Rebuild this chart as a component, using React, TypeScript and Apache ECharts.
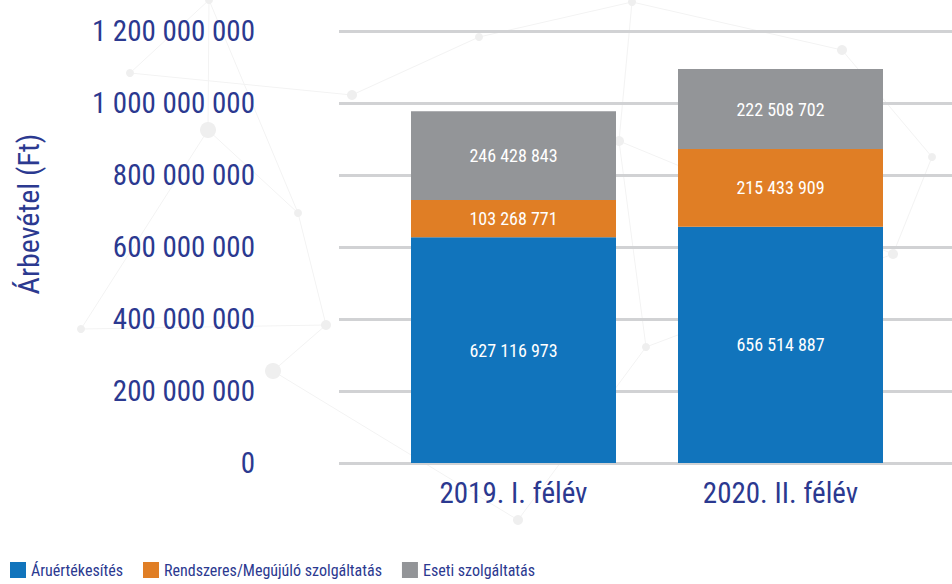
import React, { useEffect, useRef } from "react";
import * as echarts from "echarts";

const categories = ["2019. I. félév", "2020. II. félév"];
const seriesNames = ["Áruértékesítés", "Rendszeres/Megújúló szolgáltatás", "Eseti szolgáltatás"];
const aruertekesites = [627116973, 656514887];
const rendszeres = [103268771, 215433909];
const eseti = [246428843, 222508702];
const yTicks = [0, 200000000, 400000000, 600000000, 800000000, 1000000000, 1200000000];

const FONT = "'Roboto Condensed', 'DejaVu Sans Condensed', sans-serif";
const TEXT = "#2b3990";
const COLORS = ["#1174bc", "#e07e25", "#939598"];

const fmt = (n: number) => String(n).replace(/\B(?=(\d{3})+(?!\d))/g, " ");

// decorative background network
const nodes: [number, number, number][] = [
  [208, 130, 8], [130, 73, 4], [209, 0, 4], [298, 213, 4], [81, 329, 4], [273, 371, 8],
  [326, 325, 5], [352, 95, 5], [479, 37, 4], [632, 2, 4], [842, 50, 5], [619, 141, 5],
  [893, 254, 5], [646, 347, 4], [518, 520, 5], [932, 157, 4],
];
const links: [number, number][] = [
  [1, 7], [1, 2], [2, 0], [2, 3], [0, 3], [3, 6], [4, 6], [5, 6], [0, 4], [7, 8], [8, 9],
  [9, 11], [9, 10], [10, 15], [11, 12], [12, 15], [13, 12], [13, 14], [5, 14], [11, 13],
];

export default function App() {
  const ref = useRef<HTMLDivElement>(null);
  useEffect(() => {
    if (!ref.current) return;
    const chart = echarts.init(ref.current, null, { renderer: "svg" });
    const bg: any[] = [];
    links.forEach(([a, b]) => {
      bg.push({
        type: "line",
        z: -10,
        silent: true,
        shape: { x1: nodes[a][0], y1: nodes[a][1], x2: nodes[b][0], y2: nodes[b][1] },
        style: { stroke: "#f3f3f3", lineWidth: 1 },
      });
    });
    nodes.forEach(([x, y, r]) => {
      bg.push({ type: "circle", z: -10, silent: true, shape: { cx: x, cy: y, r }, style: { fill: "#efefef" } });
    });
    const label = {
      show: true,
      position: "inside",
      color: "#ffffff",
      fontSize: 18,
      fontFamily: FONT,
      formatter: (p: any) => fmt(p.value),
    };
    chart.setOption({
      animation: false,
      backgroundColor: "#ffffff",
      color: COLORS,
      grid: [
        { left: 339, right: 0, top: 31, bottom: 121 },
        { left: 380, right: 38, top: 31, bottom: 121 },
      ],
      xAxis: [
        { type: "category", gridIndex: 0, show: false, data: categories },
        {
          type: "category",
          gridIndex: 1,
          data: categories,
          axisLine: { show: false },
          axisTick: { show: false },
          axisLabel: { color: TEXT, fontSize: 29, fontFamily: FONT, margin: 15 },
        },
      ],
      yAxis: [
        {
          type: "value",
          gridIndex: 0,
          min: yTicks[0],
          max: yTicks[yTicks.length - 1],
          interval: yTicks[1] - yTicks[0],
          axisLine: { show: false },
          axisTick: { show: false },
          axisLabel: { color: TEXT, fontSize: 29, fontFamily: FONT, margin: 84, formatter: (v: number) => fmt(v) },
          splitLine: { lineStyle: { color: "#d1d2d4", width: 3 } },
        },
        {
          type: "value",
          gridIndex: 1,
          min: yTicks[0],
          max: yTicks[yTicks.length - 1],
          interval: yTicks[1] - yTicks[0],
          show: false,
          splitLine: { show: false },
        },
      ],
      legend: {
        left: 10,
        top: 562,
        itemWidth: 16,
        itemHeight: 16,
        itemGap: 20,
        padding: 0,
        icon: "rect",
        textStyle: { color: TEXT, fontSize: 16, fontFamily: FONT },
        data: seriesNames,
      },
      series: [
        { name: seriesNames[0], type: "bar", stack: "t", xAxisIndex: 1, yAxisIndex: 1, barWidth: 205, data: aruertekesites, label },
        { name: seriesNames[1], type: "bar", stack: "t", xAxisIndex: 1, yAxisIndex: 1, barWidth: 205, data: rendszeres, label },
        { name: seriesNames[2], type: "bar", stack: "t", xAxisIndex: 1, yAxisIndex: 1, barWidth: 205, data: eseti, label },
      ],
      graphic: [
        ...bg,
        {
          type: "text",
          x: 28,
          y: 214,
          rotation: Math.PI / 2,
          style: {
            text: "Árbevétel (Ft)",
            fill: TEXT,
            fontSize: 30,
            fontFamily: FONT,
            align: "center",
            verticalAlign: "middle",
          },
        },
      ],
    });
    return () => chart.dispose();
  }, []);
  return <div ref={ref} style={{ width: 952, height: 584, position: "absolute", left: 0, top: 0 }} />;
}
